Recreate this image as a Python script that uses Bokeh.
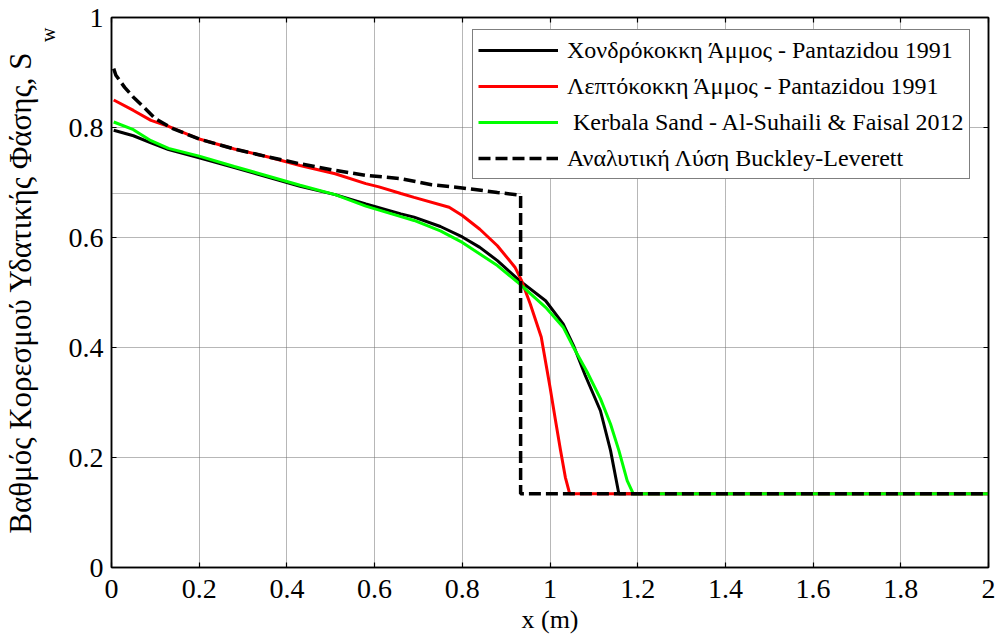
from bokeh.embed import file_html
from bokeh.models import FixedTicker, Legend, LegendItem, LinearAxis, Range1d, Title
from bokeh.plotting import figure
from bokeh.resources import INLINE

FONT = "Liberation Serif"

# Axis ticks
x_ticks = [0, 0.2, 0.4, 0.6, 0.8, 1.0, 1.2, 1.4, 1.6, 1.8, 2.0]
x_tick_labels = ["0", "0.2", "0.4", "0.6", "0.8", "1", "1.2", "1.4", "1.6", "1.8", "2"]
y_ticks = [0, 0.2, 0.4, 0.6, 0.8, 1.0]
y_tick_labels = ["0", "0.2", "0.4", "0.6", "0.8", "1"]

# Coarse sand - Pantazidou 1991
coarse_x = [0.005, 0.05, 0.09, 0.13, 0.2, 0.28, 0.36, 0.43, 0.51, 0.58, 0.66, 0.69, 0.75,
            0.80, 0.84, 0.88, 0.93, 0.99, 1.03, 1.055, 1.08, 1.115, 1.138, 1.157, 2.0]
coarse_sw = [0.795, 0.785, 0.772, 0.760, 0.745, 0.727, 0.709, 0.693, 0.678, 0.661, 0.643,
             0.637, 0.620, 0.601, 0.582, 0.558, 0.522, 0.485, 0.443, 0.401, 0.350, 0.285,
             0.213, 0.134, 0.134]

# Fine sand - Pantazidou 1991
fine_x = [0.005, 0.05, 0.09, 0.13, 0.2, 0.28, 0.36, 0.43, 0.51, 0.58, 0.61, 0.66, 0.69,
          0.77, 0.80, 0.84, 0.88, 0.92, 0.935, 0.955, 0.98, 1.0, 1.012, 1.024, 1.035,
          1.045, 2.0]
fine_sw = [0.850, 0.831, 0.813, 0.802, 0.779, 0.761, 0.746, 0.731, 0.716, 0.698, 0.692,
           0.680, 0.673, 0.655, 0.640, 0.615, 0.585, 0.546, 0.522, 0.479, 0.419, 0.328,
           0.270, 0.213, 0.164, 0.134, 0.134]

# Kerbala sand - Al-Suhaili & Faisal 2012
kerbala_x = [0.005, 0.05, 0.09, 0.13, 0.2, 0.28, 0.36, 0.43, 0.51, 0.58, 0.66, 0.69, 0.75,
             0.80, 0.84, 0.88, 0.93, 0.99, 1.03, 1.055, 1.085, 1.115, 1.138, 1.157, 1.176,
             1.19, 2.0]
kerbala_sw = [0.810, 0.796, 0.776, 0.762, 0.748, 0.729, 0.711, 0.695, 0.678, 0.657, 0.638,
              0.631, 0.612, 0.591, 0.570, 0.549, 0.516, 0.473, 0.437, 0.398, 0.355, 0.307,
              0.261, 0.213, 0.158, 0.134, 0.134]

# Analytical Buckley-Leverett solution
bl_x = [0.005, 0.01, 0.03, 0.05, 0.075, 0.1, 0.14, 0.2, 0.28, 0.36, 0.43, 0.51, 0.58, 0.66,
        0.73, 0.80, 0.88, 0.933, 0.933, 2.0]
bl_sw = [0.907, 0.895, 0.873, 0.855, 0.836, 0.816, 0.798, 0.779, 0.761, 0.746, 0.734,
         0.722, 0.713, 0.707, 0.696, 0.690, 0.682, 0.677, 0.134, 0.134]

# Front saturation reference level
front_x = [0.0, 0.933]
front_sw = [0.68, 0.68]

legend_labels = [
    "Χονδρόκοκκη Άμμος - Pantazidou 1991",
    "Λεπτόκοκκη Άμμος - Pantazidou 1991",
    " Kerbala Sand - Al-Suhaili & Faisal 2012",
    "Αναλυτική Λύση Buckley-Leverett",
]

p = figure(width=1001, height=642, x_range=Range1d(0, 2), y_range=Range1d(0, 1),
           output_backend="svg", toolbar_location=None,
           min_border_left=111, min_border_right=13, min_border_top=17,
           min_border_bottom=75)
p.background_fill_color = "white"
p.border_fill_color = "white"
p.outline_line_color = "black"
p.outline_line_width = 1.5

# grid
for g, t in ((p.xgrid, x_ticks), (p.ygrid, y_ticks)):
    g.ticker = FixedTicker(ticks=t)
    g.grid_line_color = "#6e6e6e"
    g.grid_line_dash = "1 1"
    g.grid_line_width = 1


def style_axis(ax, ticks, labels, show_labels=True):
    ax.ticker = FixedTicker(ticks=ticks)
    ax.major_label_overrides = {t: l for t, l in zip(ticks, labels)}
    ax.major_tick_in = 5
    ax.major_tick_out = 0
    ax.minor_tick_line_color = None
    ax.axis_line_color = "black"
    ax.axis_line_width = 1.5
    ax.major_tick_line_width = 1.2
    ax.major_label_text_font = FONT
    ax.major_label_text_color = "black"
    ax.axis_label_text_font = FONT
    ax.axis_label_text_font_style = "normal"
    ax.axis_label_text_color = "black"
    if show_labels:
        ax.major_label_text_font_size = "28px"
        ax.axis_label_text_font_size = "26px"
    else:
        ax.major_label_text_font_size = "0px"
        ax.major_label_standoff = 0


style_axis(p.xaxis[0], x_ticks, x_tick_labels)
style_axis(p.yaxis[0], y_ticks, y_tick_labels)
p.xaxis[0].axis_label = "x (m)"
p.xaxis[0].major_label_standoff = 12
p.xaxis[0].axis_label_standoff = 4
p.yaxis[0].major_label_standoff = 8

top_axis = LinearAxis()
right_axis = LinearAxis()
style_axis(top_axis, x_ticks, [""] * len(x_ticks), show_labels=False)
style_axis(right_axis, y_ticks, [""] * len(y_ticks), show_labels=False)
p.add_layout(top_axis, "above")
p.add_layout(right_axis, "right")

# y-axis title: subscript "w" sits between the tick labels and "... S"
sub_w = Title(text="w", align="right", offset=10, standoff=14,
              text_font=FONT, text_font_size="20px", text_font_style="normal",
              text_color="black")
y_title = Title(text="Βαθμός Κορεσμού Υδατικής Φάσης, S", align="center", offset=8,
                standoff=-20, text_font=FONT, text_font_size="31px",
                text_font_style="normal", text_color="black")
p.add_layout(sub_w, "left")
p.add_layout(y_title, "left")

p.line(front_x, front_sw, line_color="#555555", line_width=0.8, line_dash="1 1")

r_coarse = p.line(coarse_x, coarse_sw, line_color="black", line_width=3)
r_fine = p.line(fine_x, fine_sw, line_color="#ff0000", line_width=3)
r_ker = p.line(kerbala_x, kerbala_sw, line_color="#00ff00", line_width=3)
r_bl = p.line(bl_x, bl_sw, line_color="black", line_width=3.5, line_dash="12 5")

legend = Legend(items=[LegendItem(label=l, renderers=[r]) for l, r in
                       zip(legend_labels, [r_coarse, r_fine, r_ker, r_bl])],
                location=(361, 388))
legend.label_text_font = FONT
legend.label_text_font_size = "24px"
legend.label_text_color = "black"
legend.glyph_width = 80
legend.glyph_height = 30
legend.label_height = 30
legend.label_standoff = 9
legend.spacing = 6
legend.padding = 5
legend.margin = 0
legend.border_line_color = "black"
legend.border_line_width = 1
legend.background_fill_alpha = 1
legend.background_fill_color = "white"
p.add_layout(legend, "center")

open("out.html", "w").write(file_html(p, INLINE))
